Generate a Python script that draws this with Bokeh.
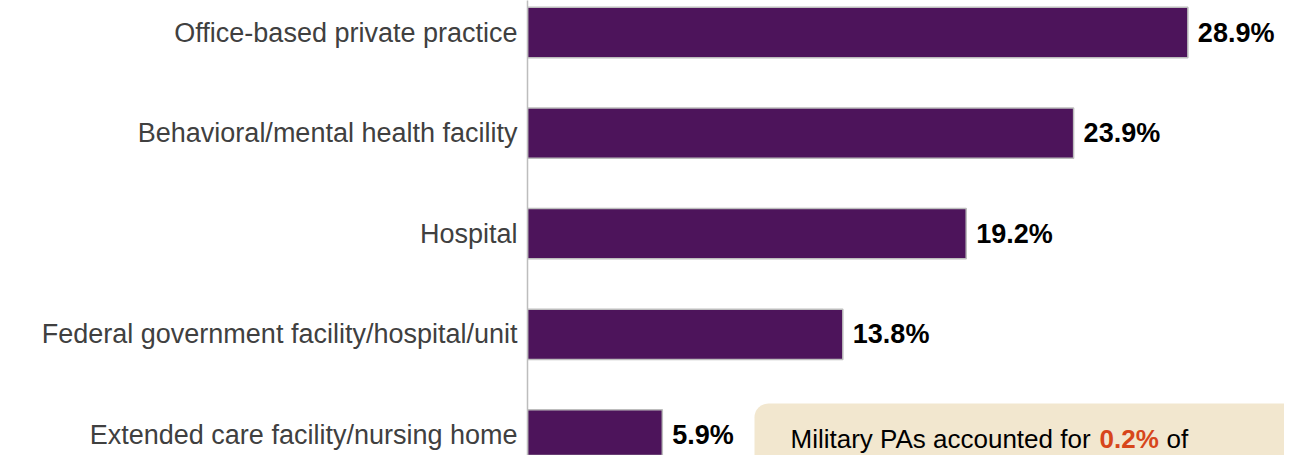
from bokeh.plotting import figure
from bokeh.models import Range1d, FixedTicker, ColumnDataSource, BoxAnnotation, Label
from bokeh.core.properties import value
from bokeh.embed import file_html
from bokeh.resources import INLINE

categories = [
    "Office-based private practice",
    "Behavioral/mental health facility",
    "Hospital",
    "Federal government facility/hospital/unit",
    "Extended care facility/nursing home",
]
values = [28.9, 23.9, 19.2, 13.8, 5.9]
value_labels = ["28.9%", "23.9%", "19.2%", "13.8%", "5.9%"]
note_parts = ["Military PAs accounted for", "0.2%", "of"]

positions = [-i for i in range(len(categories))]

PURPLE = "#4D145B"
BORDER = "#BDBDBD"
LABEL_GREY = "#404040"
BEIGE = "#F2E7CF"
ORANGE = "#D7461B"

W, H = 1284, 455
LEFT = 527
px_per_x = 22.85
px_per_y = 100.6
x_end = (W - LEFT) / px_per_x
y_end = 32 / px_per_y
y_start = y_end - H / px_per_y

p = figure(width=W, height=H, output_backend="svg", toolbar_location=None,
           x_range=Range1d(0, x_end), y_range=Range1d(y_start, y_end),
           min_border_left=LEFT, min_border_right=0, min_border_top=0, min_border_bottom=0)
p.outline_line_color = None
p.grid.visible = False
p.xaxis.visible = False
p.background_fill_color = "white"
p.border_fill_color = "white"

yax = p.yaxis[0]
yax.ticker = FixedTicker(ticks=positions)
yax.major_label_overrides = {pos: c for pos, c in zip(positions, categories)}
yax.major_label_text_font = "Liberation Sans"
yax.major_label_text_font_size = "27px"
yax.major_label_text_color = LABEL_GREY
yax.major_label_standoff = 10
yax.major_tick_out = 0
yax.major_tick_in = 0
yax.minor_tick_out = 0
yax.minor_tick_in = 0
yax.axis_line_color = BORDER
yax.axis_line_width = 1.5

src = ColumnDataSource(dict(y=positions, v=values, lab=value_labels))
p.hbar(y="y", left=0, right="v", height=0.5, source=src,
       fill_color=PURPLE, line_color=BORDER, line_width=1.5)
p.text(x="v", y="y", text="lab", source=src, x_offset=10,
       text_font=value("Liberation Sans"), text_font_style="bold",
       text_font_size="27px", text_color="black",
       text_align="left", text_baseline="middle")

# annotation box (extends past the cropped edges)
box_left = (754 - LEFT) / px_per_x
box_top = y_end - 403 / px_per_y
p.add_layout(BoxAnnotation(left=box_left, right=x_end, top=box_top, bottom=y_start,
                           fill_color=BEIGE, fill_alpha=1.0, line_color=None,
                           border_radius=(14, 0, 0, 0), level="underlay"))

base_y = y_end - 438 / px_per_y
xs_px = [790, 1099, 1166]
for txt, xp in zip(note_parts, xs_px):
    p.add_layout(Label(x=(xp - LEFT) / px_per_x, y=base_y, text=txt,
                       text_font="Liberation Sans", text_font_size="26px",
                       text_font_style="bold" if txt == "0.2%" else "normal",
                       text_color=ORANGE if txt == "0.2%" else "black",
                       text_baseline="alphabetic", text_align="left"))

open("out.html", "w").write(file_html(p, INLINE))
